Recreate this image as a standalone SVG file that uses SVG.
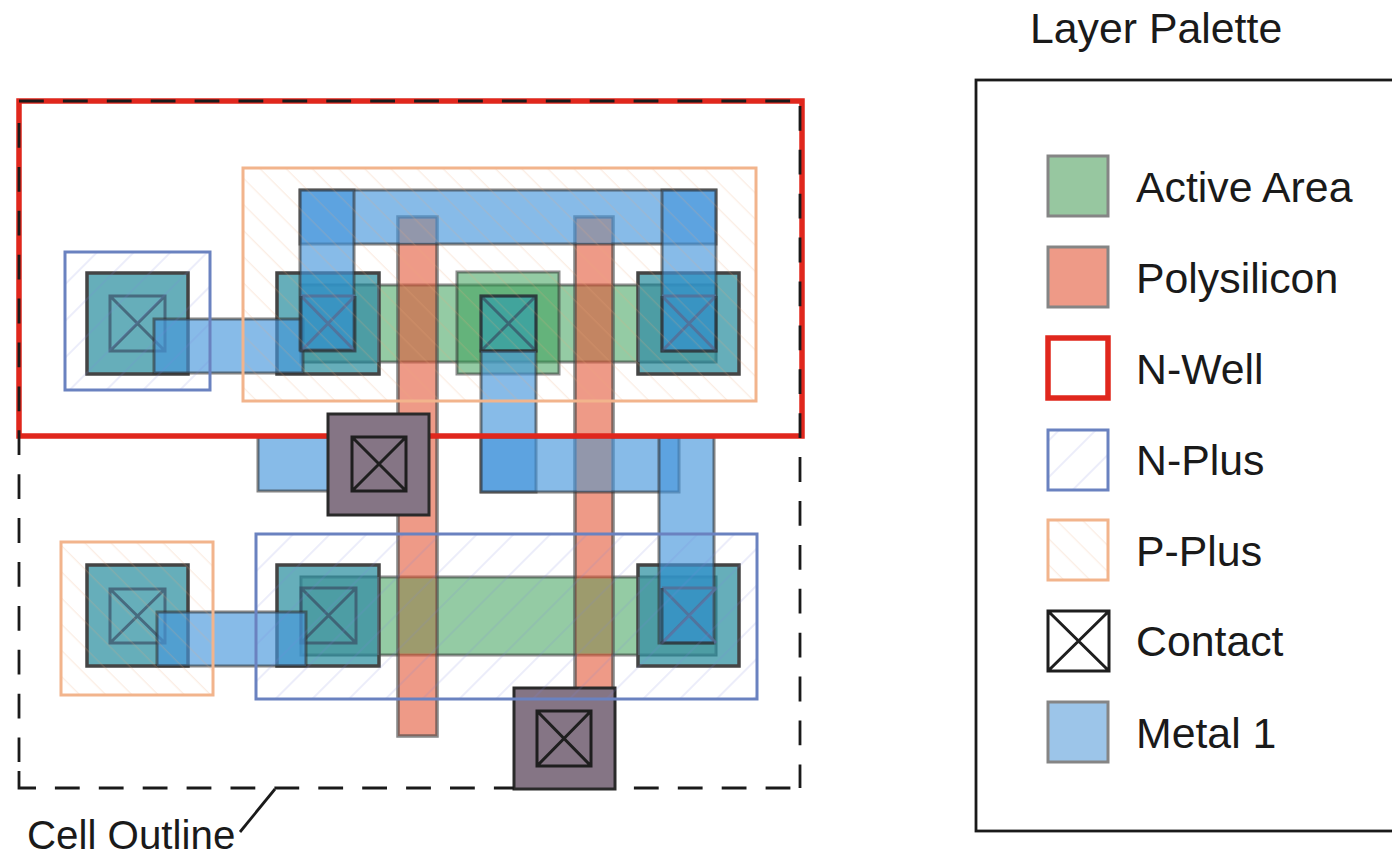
<svg xmlns="http://www.w3.org/2000/svg" width="1392" height="857" viewBox="0 0 1392 857">
<style>
text{font-family:"Liberation Sans",Arial,sans-serif;font-size:42.8px;fill:#1a1a1a}
.np{fill:url(#hn);stroke:#6a82c0;stroke-width:3}
.pp{fill:url(#hp);stroke:#f2b48c;stroke-width:3}
.aa{fill:rgba(60,160,90,.55);stroke:rgba(50,50,50,.55);stroke-width:3}
.po{fill:rgba(227,87,55,.6);stroke:rgba(70,70,70,.65);stroke-width:3.5}
.m1{fill:rgba(70,150,220,.65);stroke:rgba(50,50,50,.6);stroke-width:3}
.sq{fill:rgba(0,120,140,.6);stroke:#444;stroke-width:3.5}
.ov{fill:rgba(120,170,200,.3)}
.ob{fill:#9297ab}
.ol{fill:#9d9b6d}
.gc{fill:#857585;stroke:#2a2a2a;stroke-width:3}
.ct{fill:none;stroke:rgba(55,70,95,.65);stroke-width:3}
.cx{fill:none;stroke:rgba(85,110,150,.85);stroke-width:3}
.ce{fill:none;stroke:rgba(40,45,50,.6);stroke-width:3}
.cb{fill:none;stroke:#1e1e1e;stroke-width:3}
.dk{fill:rgba(0,130,175,.22)}
.nw{fill:none;stroke:#e0271d;stroke-width:5.5}
.out{fill:none;stroke:#1a1a1a;stroke-width:2.8}
.ds{stroke-dasharray:24.8 19.1}
.sw{stroke:#858585;stroke-width:3}
</style>
<defs>
<pattern id="hn" patternUnits="userSpaceOnUse" width="26" height="26" patternTransform="rotate(45)"><line x1="13" y1="0" x2="13" y2="26" stroke="#7c86dc" stroke-width=".9" stroke-opacity=".32"/></pattern>
<pattern id="hp" patternUnits="userSpaceOnUse" width="18.5" height="18.5" patternTransform="rotate(-45)"><line x1="9" y1="0" x2="9" y2="18.5" stroke="#eea878" stroke-width=".9" stroke-opacity=".3"/></pattern>
</defs>
<g id="palette">
<rect x="976" y="80" width="430" height="751" fill="#fff" stroke="#1a1a1a" stroke-width="2.8"/>
<text x="1030" y="43">Layer Palette</text>
</g>
<g id="legend-active"><rect class="sw" fill="#97c7a0" x="1048" y="156" width="60" height="60"/><text x="1136" y="202">Active Area</text></g>
<g id="legend-poly"><rect class="sw" fill="#ee9a87" x="1048" y="247" width="60" height="60"/><text x="1136" y="293">Polysilicon</text></g>
<g id="legend-nwell"><rect class="nw" x="1048" y="338" width="60" height="60"/><text x="1136" y="384">N-Well</text></g>
<g id="legend-nplus"><rect class="np" x="1048" y="430" width="60" height="60"/><text x="1136" y="475">N-Plus</text></g>
<g id="legend-pplus"><rect class="pp" x="1048" y="520" width="60" height="60"/><text x="1136" y="566">P-Plus</text></g>
<g id="legend-contact"><path class="cb" d="M1048 611H1109V671H1048Z M1048 611L1109 671M1109 611L1048 671"/><text x="1136" y="656">Contact</text></g>
<g id="legend-metal"><rect class="sw" fill="#9cc5e9" x="1048" y="702" width="60" height="60"/><text x="1136" y="748">Metal 1</text></g>

<g id="active">
<rect class="aa" x="301" y="285" width="415" height="77"/>
<rect class="aa" x="457" y="272" width="102" height="102"/>
<rect class="aa" x="301" y="577" width="415" height="78"/>
</g>
<g id="poly">
<rect class="po" x="398" y="217" width="39" height="519"/>
<rect class="po" x="575" y="217" width="38" height="480"/>
<rect class="ol" x="399.7" y="578.5" width="35.6" height="75"/>
<rect class="ol" x="576.7" y="578.5" width="34.6" height="75"/>
</g>
<g id="tap-nw"><rect class="sq" x="87" y="273" width="101" height="101"/><path class="ct" d="M110 296H165V351H110Z M110 296L165 351M165 296L110 351"/></g>
<g id="src-p"><rect class="sq" x="277" y="273" width="102" height="101"/><rect class="ov" x="301" y="285" width="78" height="77"/></g>
<g id="mid-p"><rect x="481" y="296" width="55" height="55" fill="rgba(30,150,190,.5)"/><path class="ct" d="M481 296H536V351H481Z M481 296L536 351M536 296L481 351"/><rect x="481" y="296" width="55" height="55" fill="none" stroke="rgba(30,30,30,.6)" stroke-width="3"/></g>
<g id="drn-p"><rect class="sq" x="638" y="273" width="101" height="101"/><rect class="ov" x="638" y="285" width="78" height="77"/></g>
<g id="tap-pw"><rect class="sq" x="87" y="565" width="101" height="101"/><path class="ct" d="M110 589H165V643H110Z M110 589L165 643M165 589L110 643"/></g>
<g id="src-n"><rect class="sq" x="277" y="565" width="102" height="101"/><rect class="ov" x="301" y="577" width="78" height="78"/><path class="ct" d="M301 588H356V643H301Z M301 588L356 643M356 588L301 643"/></g>
<g id="drn-n"><rect class="sq" x="638" y="565" width="101" height="101"/><rect class="ov" x="638" y="577" width="78" height="78"/></g>
<g id="metal">
<rect class="m1" x="154" y="319" width="149" height="54"/>
<rect class="m1" x="157" y="612" width="149" height="54"/>
<rect class="m1" x="300" y="190" width="416" height="54"/>
<rect class="m1" x="300" y="190" width="54" height="160"/>
<rect class="m1" x="662" y="190" width="54" height="161"/>
<rect class="m1" x="481" y="351" width="55" height="141"/>
<rect class="m1" x="481" y="437" width="198" height="55"/>
<rect class="m1" x="659" y="437" width="55" height="206"/>
<rect class="m1" x="258" y="437" width="100" height="54"/>
<rect class="ob" x="399.7" y="218.7" width="35.6" height="24"/>
<rect class="ob" x="576.7" y="218.7" width="34.6" height="24"/>
<rect class="ob" x="576.7" y="438.5" width="34.6" height="52"/>
</g>
<g id="contacts-over-metal">
<rect class="dk" x="302" y="274.5" width="51" height="74"/><path class="cx" d="M301 296H355M301 296L355 351M355 296L301 351"/><path class="ce" d="M301 296V351H355V296"/>
<rect class="dk" x="664" y="274.5" width="51" height="75"/><path class="cx" d="M662 296H716M662 296L716 351M716 296L662 351"/><path class="ce" d="M662 296V351H716V296"/>
<rect class="dk" x="661" y="566.5" width="51" height="75"/><path class="cx" d="M662 588H716M662 588L716 643M716 588L662 643"/><path class="ce" d="M662 588V643H714"/>
</g>
<g id="nwell"><rect class="nw" x="19" y="101" width="783" height="335"/></g>
<g id="gate-a"><rect class="gc" x="328" y="414" width="101" height="101"/><path class="cb" d="M352 437H406V491H352Z M352 437L406 491M406 437L352 491"/></g>
<g id="gate-b"><rect class="gc" x="514" y="688" width="101" height="101"/><path class="cb" d="M537 711H591V766H537Z M537 711L591 766M591 711L537 766"/></g>
<g id="implants">
<rect class="np" x="65" y="252" width="145" height="138"/>
<rect class="pp" x="243" y="168" width="513" height="233"/>
<rect class="pp" x="61" y="542" width="152" height="153"/>
<rect class="np" x="256" y="534" width="501" height="165"/>
</g>
<g id="connectors">
<path class="out ds" d="M19 101H801"/>
<path class="out ds" stroke-dashoffset="39" d="M800 101V788"/>
<path class="out ds" d="M19 123V762"/>
<path class="out" d="M19 771V788H36"/>
<path class="out ds" d="M36 788H514M615 788H801" stroke-dashoffset="25"/>
<path class="out" d="M275 789L240 832"/>
</g>
<text id="cell-label" x="27" y="848.5" style="font-size:40.3px">Cell Outline</text>
</svg>
